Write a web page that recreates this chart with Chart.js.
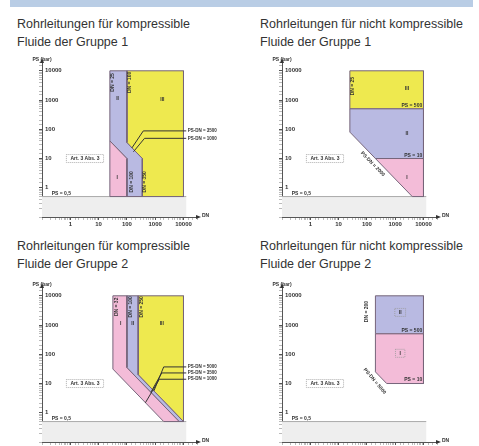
<!DOCTYPE html>
<html>
<head>
<meta charset="utf-8">
<script src="https://cdn.jsdelivr.net/npm/chart.js@4.4.1/dist/chart.umd.min.js"></script>
<style>
  body { margin: 0; width: 479px; height: 446px; overflow: hidden; background: #fff; position: relative;
         font-family: "Liberation Sans", sans-serif; color: #333; }
  .bar { position: absolute; left: 10px; top: 0; width: 463px; height: 7px; background: #b9cde5; }
  .t { position: absolute; font-size: 12.5px; line-height: 18px; white-space: nowrap; }
  canvas { position: absolute; }
</style>
</head>
<body>
<div class="bar"></div>
<div class="t" style="left:17px;top:15px">Rohrleitungen für kompressible<br>Fluide der Gruppe 1</div>
<div class="t" style="left:260px;top:15px">Rohrleitungen für nicht kompressible<br>Fluide der Gruppe 1</div>
<div class="t" style="left:17px;top:237px">Rohrleitungen für kompressible<br>Fluide der Gruppe 2</div>
<div class="t" style="left:260px;top:237px">Rohrleitungen für nicht kompressible<br>Fluide der Gruppe 2</div>

<canvas id="c1" width="240" height="195" style="left:0;top:50px"></canvas>
<canvas id="c2" width="240" height="195" style="left:240px;top:50px"></canvas>
<canvas id="c3" width="240" height="195" style="left:0;top:275px"></canvas>
<canvas id="c4" width="240" height="195" style="left:240px;top:275px"></canvas>

<script>
// Achsen: DN (x) und PS in bar (y), beide logarithmisch
const xTicks = [1, 10, 100, 1000, 10000];
const yTicks = [1, 10, 100, 1000, 10000];

// Bereich PS <= 0,5 bar
const band = [[0.1, 0.1], [0.1, 0.5], [12500, 0.5], [12500, 0.1]];
const psLine = [[0.1, 0.5], [12500, 0.5]];

// Gase Gruppe 1 (DN 25 / 100 / 350, PS·DN 1000 / 3500)
const g1Kat1 = [[25, 40], [100, 10], [100, 0.5], [25, 0.5]];
const g1Kat2 = [[25, 10000], [100, 10000], [100, 35], [350, 10], [350, 0.5], [100, 0.5], [100, 10], [25, 40]];
const g1Kat3 = [[100, 10000], [10000, 10000], [10000, 0.5], [350, 0.5], [350, 10], [100, 35]];
const g1Lead3500 = [[150, 23], [380, 88], [12500, 88]];
const g1Lead1000 = [[170, 17], [420, 49], [12500, 49]];

// Flüssigkeiten Gruppe 1 (DN 25, PS·DN 2000, PS 10 / 500)
const f1Kat1 = [[200, 10], [10000, 10], [10000, 0.5], [4000, 0.5]];
const f1Kat2 = [[25, 80], [25, 500], [10000, 500], [10000, 10], [200, 10]];
const f1Kat3 = [[25, 500], [25, 10000], [10000, 10000], [10000, 500]];

// Gase Gruppe 2 (DN 32 / 100 / 250, PS·DN 1000 / 3500 / 5000)
const g2Kat1 = [[32, 10000], [100, 10000], [100, 35], [7000, 0.5], [2000, 0.5], [32, 31.25]];
const g2Kat2 = [[100, 10000], [250, 10000], [250, 20], [10000, 0.5], [7000, 0.5], [100, 35]];
const g2Kat3 = [[250, 10000], [10000, 10000], [10000, 0.5], [250, 20]];
const g2Lead5000 = [[900, 5.6], [2000, 37], [12500, 37]];
const g2Lead3500 = [[700, 5], [1700, 23], [12500, 23]];
const g2Lead1000 = [[450, 2.2], [1400, 14], [12500, 14]];

// Flüssigkeiten Gruppe 2 (DN 200, PS·DN 5000, PS 10 / 500)
const f2Kat1 = [[200, 25], [200, 500], [10000, 500], [10000, 10], [500, 10]];
const f2Kat2 = [[200, 500], [200, 10000], [10000, 10000], [10000, 500]];

const yellow = '#eee94f', lilac = '#b9bae2', pink = '#f3bcd8', edge = '#76657a';

function pts(a) { return a.map(p => ({ x: p[0], y: p[1] })); }
function closed(a) { return pts(a.concat([a[0]])); }

function area(a, color) {
  return { data: closed(a), showLine: true, fill: 'shape', backgroundColor: color,
           borderColor: edge, borderWidth: 1, pointRadius: 0 };
}
function lead(a) {
  return { data: pts(a), showLine: true, fill: false, borderColor: '#333', borderWidth: 1, pointRadius: 0 };
}
function base() {
  return [
    { data: pts(psLine), showLine: true, fill: false, borderColor: '#aaaaaa', borderWidth: 1, pointRadius: 0 },
    { data: closed(band), showLine: true, fill: 'shape', backgroundColor: '#eeeeee', borderWidth: 0, pointRadius: 0 }
  ];
}

function isTick(list, v) { return list.find(t => Math.abs(t - v) < t * 1e-6); }

function notesPlugin(notes) {
  return {
    id: 'notes',
    afterDraw(chart) {
      const { ctx, chartArea: a, scales: { x, y } } = chart;
      ctx.save();
      ctx.fillStyle = '#333';
      // Pfeilspitzen der Achsen
      ctx.beginPath();
      ctx.moveTo(a.left, a.top - 4); ctx.lineTo(a.left - 2, a.top + 1); ctx.lineTo(a.left + 2, a.top + 1);
      ctx.fill();
      ctx.beginPath();
      ctx.moveTo(a.right + 4, a.bottom); ctx.lineTo(a.right - 1, a.bottom - 2); ctx.lineTo(a.right - 1, a.bottom + 2);
      ctx.fill();
      ctx.font = 'bold 5px "Liberation Sans"';
      ctx.textBaseline = 'middle';
      ctx.textAlign = 'center';
      ctx.fillText('PS (bar)', a.left, a.top - 2);
      ctx.textAlign = 'left';
      ctx.fillText('DN', a.right + 5, a.bottom - 1);
      for (const n of notes) {
        ctx.save();
        ctx.translate(x.getPixelForValue(n.x), y.getPixelForValue(n.y));
        ctx.rotate((n.rot || 0) * Math.PI / 180);
        ctx.font = 'bold ' + (n.size || 5) + 'px "Liberation Sans"';
        ctx.textAlign = n.align || 'center';
        ctx.textBaseline = 'middle';
        ctx.fillText(n.t, 0, 0);
        if (n.box) {
          const w = ctx.measureText(n.t).width;
          ctx.setLineDash([1, 1]);
          ctx.strokeStyle = '#999';
          ctx.lineWidth = 0.8;
          ctx.strokeRect(-w / 2 - 4, -4, w + 8, 8);
        }
        ctx.restore();
      }
      ctx.restore();
    }
  };
}

// Chart.js zeichnet Datensatz 0 zuoberst: Linien zuerst, Flächen danach, Grundband zuletzt
function makeChart(id, datasets, notes) {
  new Chart(document.getElementById(id), {
    type: 'scatter',
    data: { datasets: datasets },
    options: {
      responsive: false,
      animation: false,
      devicePixelRatio: 1,
      layout: { padding: { left: 42, right: 43, top: 12, bottom: 12 } },
      plugins: { legend: { display: false }, tooltip: { enabled: false } },
      scales: {
        x: {
          type: 'logarithmic', min: 0.1, max: 30000,
          afterFit: s => { s.height = 16; },
          border: { color: '#555', width: 1 },
          grid: { drawOnChartArea: false, tickLength: 3,
                  color: c => isTick(xTicks, c.tick.value) ? '#555' : '#bbb' },
          ticks: { autoSkip: false, maxRotation: 0, padding: 1, color: '#333',
                   font: { size: 6, weight: 'bold', family: '"Liberation Sans"' },
                   callback: v => isTick(xTicks, v) ? String(v) : '' }
        },
        y: {
          type: 'logarithmic', min: 0.1, max: 20000,
          afterFit: s => { s.width = 0; },
          border: { color: '#555', width: 1 },
          grid: { drawOnChartArea: false, tickLength: 3,
                  color: c => isTick(yTicks, c.tick.value) ? '#555' : '#bbb' },
          ticks: { autoSkip: false, mirror: true, padding: 3, color: '#333',
                   font: { size: 6, weight: 'bold', family: '"Liberation Sans"' },
                   callback: v => isTick(yTicks, v) ? String(v) : '' }
        }
      }
    },
    plugins: [notesPlugin(notes)]
  });
}

const art = { x: 3.3, y: 10, t: 'Art. 3 Abs. 3', box: true };
const ps05 = { x: 0.22, y: 0.62, t: 'PS = 0,5', align: 'left' };

makeChart('c1', [lead(g1Lead3500), lead(g1Lead1000),
  area(g1Kat1, pink), area(g1Kat2, lilac), area(g1Kat3, yellow)].concat(base()), [
  art, ps05,
  { x: 45, y: 2.2, t: 'I' }, { x: 47, y: 1100, t: 'II' }, { x: 1800, y: 1000, t: 'III' },
  { x: 32, y: 4000, t: 'DN = 25', rot: -90 }, { x: 125, y: 4000, t: 'DN = 100', rot: -90 },
  { x: 150, y: 1.6, t: 'DN = 100', rot: -90 }, { x: 430, y: 1.6, t: 'DN = 350', rot: -90 },
  { x: 14000, y: 88, t: 'PS·DN = 3500', align: 'left', size: 4.5 },
  { x: 14000, y: 49, t: 'PS·DN = 1000', align: 'left', size: 4.5 }
]);

makeChart('c2', [area(f1Kat1, pink), area(f1Kat2, lilac), area(f1Kat3, yellow)].concat(base()), [
  art, ps05,
  { x: 2600, y: 2.2, t: 'I' }, { x: 2600, y: 70, t: 'II' }, { x: 2600, y: 2400, t: 'III' },
  { x: 9000, y: 650, t: 'PS = 500', align: 'right' }, { x: 9000, y: 13, t: 'PS = 10', align: 'right' },
  { x: 32, y: 3000, t: 'DN = 25', rot: -90 },
  { x: 160, y: 6.5, t: 'PS·DN = 2000', rot: 46 }
]);

makeChart('c3', [lead(g2Lead5000), lead(g2Lead3500), lead(g2Lead1000),
  area(g2Kat1, pink), area(g2Kat2, lilac), area(g2Kat3, yellow)].concat(base()), [
  art, ps05,
  { x: 60, y: 1100, t: 'I' }, { x: 160, y: 1100, t: 'II' }, { x: 1700, y: 1100, t: 'III' },
  { x: 44, y: 4200, t: 'DN = 32', rot: -90 }, { x: 135, y: 4200, t: 'DN = 100', rot: -90 },
  { x: 330, y: 4200, t: 'DN = 250', rot: -90 },
  { x: 14000, y: 37, t: 'PS·DN = 5000', align: 'left', size: 4.5 },
  { x: 14000, y: 23, t: 'PS·DN = 3500', align: 'left', size: 4.5 },
  { x: 14000, y: 14, t: 'PS·DN = 1000', align: 'left', size: 4.5 }
]);

makeChart('c4', [area(f2Kat1, pink), area(f2Kat2, lilac)].concat(base()), [
  art, ps05,
  { x: 1500, y: 108, t: 'I', box: true }, { x: 1500, y: 2700, t: 'II', box: true },
  { x: 9000, y: 650, t: 'PS = 500', align: 'right' }, { x: 9000, y: 14, t: 'PS = 10', align: 'right' },
  { x: 100, y: 2900, t: 'DN = 200', rot: -90 },
  { x: 190, y: 12, t: 'PS·DN = 5000', rot: 50 }
]);
</script>
</body>
</html>
